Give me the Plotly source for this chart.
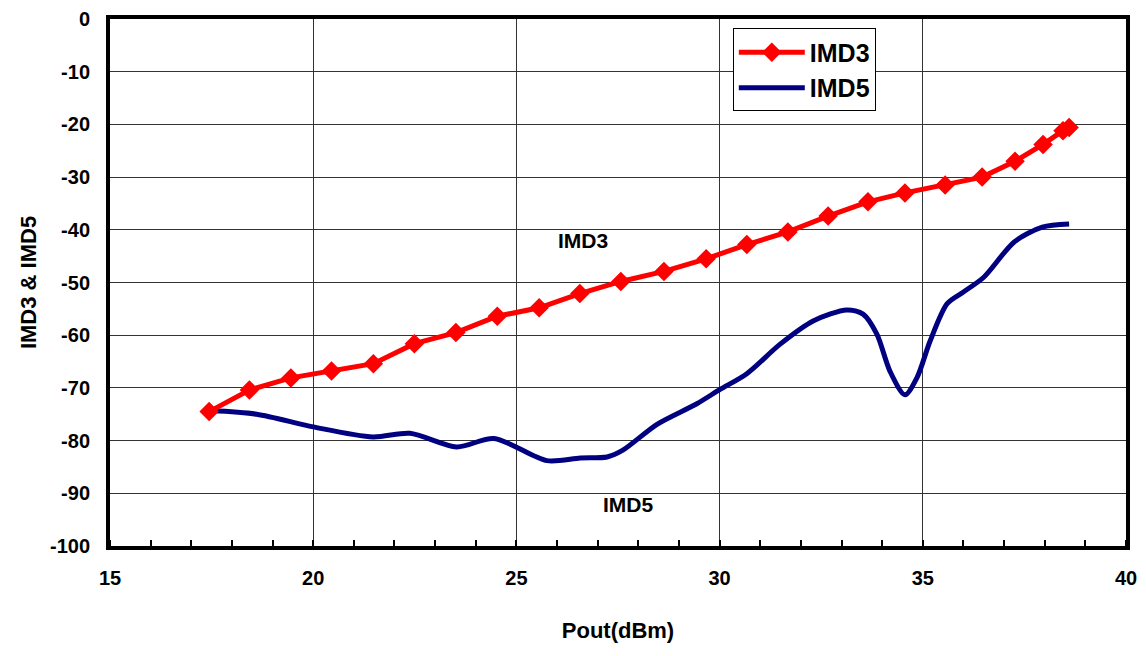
import plotly.graph_objects as go

imd3_x = [17.44, 18.43, 19.45, 20.45, 21.48, 22.49, 23.51, 24.53, 25.56, 26.56, 27.57, 28.63,
          29.67, 30.67, 31.68, 32.67, 33.65, 34.56, 35.55, 36.46, 37.27, 37.96, 38.45, 38.6]
imd3_y = [-74.5, -70.4, -68.1, -66.8, -65.4, -61.6, -59.5, -56.4, -54.8, -52.1, -49.8, -47.9,
          -45.5, -42.8, -40.4, -37.4, -34.7, -33.0, -31.5, -30.0, -27.0, -23.8, -21.2, -20.6]

imd5_x = [17.46, 18.61, 20.0, 21.47, 22.38, 23.53, 24.45, 25.75, 26.57, 27.23, 27.62, 28.46,
          29.44, 30.01, 30.67, 31.49, 32.30, 33.13, 33.53, 33.87, 34.19, 34.56, 34.86, 35.18,
          35.6, 36.0, 36.5, 37.25, 37.94, 38.6]
imd5_y = [-74.3, -75.0, -77.4, -79.3, -78.6, -81.2, -79.6, -83.8, -83.3, -83.1, -81.8, -76.9,
          -73.0, -70.3, -67.3, -61.7, -57.3, -55.2, -56.0, -59.8, -66.8, -71.3, -68.0, -61.1,
          -54.0, -51.8, -49.0, -42.3, -39.5, -38.9]

x_ticks = [15, 20, 25, 30, 35, 40]
y_ticks = [0, -10, -20, -30, -40, -50, -60, -70, -80, -90, -100]

FONT = "Liberation Sans, Arial, sans-serif"

fig = go.Figure()
fig.add_trace(go.Scatter(
    x=imd5_x, y=imd5_y, name="IMD5", mode="lines",
    line=dict(color="#000080", width=5, shape="spline", smoothing=0.8),
))
fig.add_trace(go.Scatter(
    x=imd3_x, y=imd3_y, name="IMD3", mode="lines+markers",
    line=dict(color="#ff0000", width=5),
    marker=dict(symbol="diamond", size=15, color="#ff0000"),
))

fig.add_annotation(x=26.65, y=-42, text="IMD3", showarrow=False,
                   font=dict(family=FONT, size=21, color="black", weight="bold"))
fig.add_annotation(x=27.75, y=-92.2, text="IMD5", showarrow=False,
                   font=dict(family=FONT, size=21, color="black", weight="bold"))

# page body has an 8px margin; compensate so the plot area matches
fig.update_layout(
    width=1130, height=640,
    margin=dict(l=102, r=12, t=11, b=102),
    plot_bgcolor="white", paper_bgcolor="white",
    font=dict(family=FONT, size=20, color="black", weight="bold"),
    legend=dict(
        x=0.613, y=0.982, xanchor="left", yanchor="top",
        bgcolor="white", bordercolor="black", borderwidth=1,
        font=dict(family=FONT, size=25, color="black", weight="bold"),
        traceorder="reversed", itemwidth=66, tracegroupgap=0,
    ),
    showlegend=True,
)
fig.update_xaxes(
    range=[15, 40], tickvals=x_ticks, ticktext=[str(v) for v in x_ticks],
    showgrid=True, gridcolor="#333333", gridwidth=1,
    showline=True, linecolor="black", linewidth=4, mirror=True,
    ticks="", zeroline=False, automargin=False, ticklabelstandoff=11,
    ticklabeloverflow="allow",
    minor=dict(dtick=1, ticks="inside", ticklen=6, tickcolor="black", tickwidth=2, showgrid=False),
    title=dict(text="Pout(dBm)", font=dict(family=FONT, size=22, weight="bold"), standoff=36),
    tickfont=dict(family=FONT, size=20, weight="bold"),
)
fig.update_yaxes(
    range=[-100, 0], tickvals=y_ticks, ticktext=[str(v) for v in y_ticks],
    showgrid=True, gridcolor="#333333", gridwidth=1,
    showline=True, linecolor="black", linewidth=4, mirror=True,
    ticks="", zeroline=False, automargin=False, ticklabelstandoff=12,
    ticklabeloverflow="allow",
    title=dict(text="IMD3 &amp; IMD5", font=dict(family=FONT, size=22, weight="bold"), standoff=8),
    tickfont=dict(family=FONT, size=20, weight="bold"),
)

fig.write_html("out.html")
